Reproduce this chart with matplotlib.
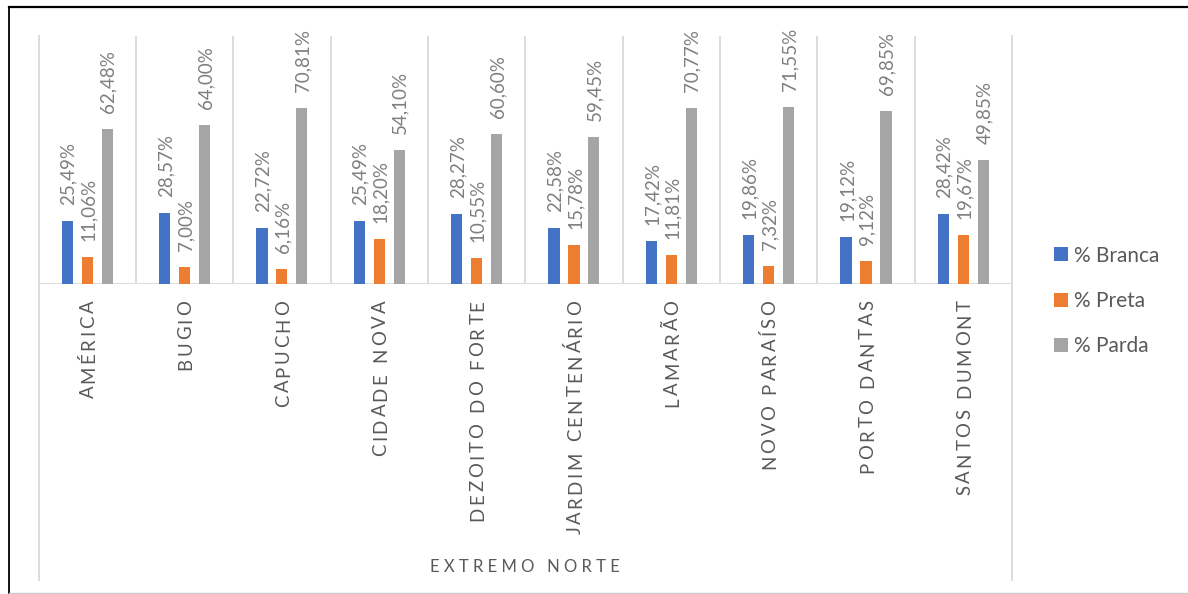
import matplotlib
matplotlib.use('Agg')
import matplotlib.pyplot as plt
from matplotlib.lines import Line2D
from matplotlib.transforms import offset_copy
from matplotlib.font_manager import FontProperties
from matplotlib.textpath import text_to_path
import numpy as np

# dados
bairros = ['AMÉRICA', 'BUGIO', 'CAPUCHO', 'CIDADE NOVA', 'DEZOITO DO FORTE',
           'JARDIM CENTENÁRIO', 'LAMARÃO', 'NOVO PARAÍSO', 'PORTO DANTAS', 'SANTOS DUMONT']
branca = [25.49, 28.57, 22.72, 25.49, 28.27, 22.58, 17.42, 19.86, 19.12, 28.42]
preta = [11.06, 7.00, 6.16, 18.20, 10.55, 15.78, 11.81, 7.32, 9.12, 19.67]
parda = [62.48, 64.00, 70.81, 54.10, 60.60, 59.45, 70.77, 71.55, 69.85, 49.85]
series = ['% Branca', '% Preta', '% Parda']
cores = ['#4472C4', '#ED7D31', '#A5A5A5']
grupo = 'EXTREMO NORTE'

plt.rcParams['font.family'] = ['Lato', 'DejaVu Sans']

W, H = 1188, 594
DPI = 100
fig = plt.figure(figsize=(W / DPI, H / DPI), dpi=DPI)
ax = fig.add_axes([38.5 / W, 1 - 284 / H, (1012 - 38.5) / W, (284 - 36) / H])
ax.set_xlim(-0.5, len(bairros) - 0.5)
ax.set_ylim(0, 100)
ax.axis('off')


def espacar(txt):
    return '   '.join(' '.join(list(p)) for p in txt.split(' '))


grade = '#D9D9D9'
for b in np.arange(0.5, len(bairros) - 0.5, 1):
    ax.axvline(b, color=grade, lw=1.3, zorder=0)
ax.axhline(0, color=grade, lw=1.3, zorder=0)

x = np.arange(len(bairros))
larg = 0.115
desl = 0.205
trans_lbl = offset_copy(ax.transData, fig=fig, x=6.5, y=16, units='dots')
for i, (vals, nome, cor) in enumerate(zip([branca, preta, parda], series, cores)):
    pos = x + (i - 1) * desl
    ax.bar(pos, vals, width=larg, color=cor, label=nome, zorder=2)
    for px, v in zip(pos, vals):
        ax.text(px, v, f'{v:.2f}%'.replace('.', ','), rotation=90, rotation_mode='anchor',
                ha='left', va='baseline', fontsize=13.5, color='#7f7f7f', transform=trans_lbl)

# category labels, drawn letter by letter to get the letter spacing
fs_cat = 13.4
fp = FontProperties(family=['Lato', 'DejaVu Sans'], size=fs_cat)
track = 2.6      # px between letters
gap_pal = 8.5    # extra px for a word space


def avanco(c):
    w = text_to_path.get_text_width_height_descent(c, fp, ismath=False)[0]
    return w * DPI / 72.0


for xi, nome in zip(x, bairros):
    passos = []
    for c in nome:
        if c == ' ':
            passos.append((None, gap_pal))
        else:
            passos.append((c, avanco(c) + track))
    total = sum(p[1] for p in passos) - track
    y0 = -16 - total
    for c, adv in passos:
        if c is not None:
            ax.text(xi, 0, c, rotation=90, rotation_mode='anchor', ha='left', va='baseline',
                    fontsize=fs_cat, color='#595959',
                    transform=offset_copy(ax.get_xaxis_transform(), fig=fig, x=7, y=y0, units='dots'))
        y0 += adv

fig.text(525 / W, 1 - 567 / H, espacar(grupo), ha='center', va='center',
         fontsize=12, color='#595959')

# outer lines of the category axis
for xl in [38.5, 1012]:
    fig.add_artist(Line2D([xl / W, xl / W], [1 - 36 / H, 1 - 580 / H],
                          transform=fig.transFigure, color=grade, lw=1.3))

# border
fig.add_artist(Line2D([8.5 / W, 1], [1 - 6.5 / H, 1 - 6.5 / H], transform=fig.transFigure, color='black', lw=1.6))
fig.add_artist(Line2D([8.5 / W, 8.5 / W], [1 - 6.5 / H, 1 - 593 / H], transform=fig.transFigure, color='black', lw=1.3))
fig.add_artist(Line2D([8.5 / W, 1], [1 - 592.5 / H, 1 - 592.5 / H], transform=fig.transFigure, color='#c8c8c8', lw=1.0))

fig.legend(loc='center left', bbox_to_anchor=(1054 / W, 1 - 301 / H), frameon=False,
           fontsize=15, handlelength=0.65, handleheight=0.65, handletextpad=0.3,
           labelspacing=1.22, labelcolor='#595959', borderpad=0, borderaxespad=0)

fig.savefig('out.png', dpi=DPI)
